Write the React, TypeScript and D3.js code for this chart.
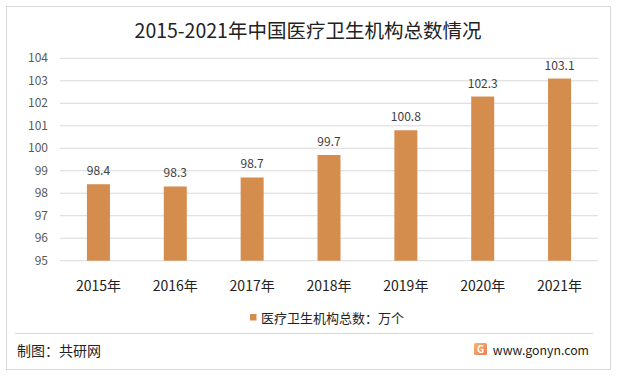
import React from "react";
import * as d3 from "d3";

const categories = ["2015年", "2016年", "2017年", "2018年", "2019年", "2020年", "2021年"];
const values = [98.4, 98.3, 98.7, 99.7, 100.8, 102.3, 103.1];
const yTicks = [95, 96, 97, 98, 99, 100, 101, 102, 103, 104];

const W = 617, H = 377;
const font = "'Microsoft YaHei', 'Noto Sans CJK SC', sans-serif";

export default function App() {
  const xc = d3.scaleBand<string>().domain(categories).range([60, 598]);
  const y = d3.scaleLinear().domain([95, 104]).range([260.7, 58.3]);
  const bw = 23;
  return (
    <svg width={W} height={H} style={{ position: "absolute", left: 0, top: 0 }} fontFamily={font}>
      <defs>
        <linearGradient id="lg" x1="0" y1="0" x2="1" y2="1">
          <stop offset="0" stopColor="#f7b46e" />
          <stop offset="1" stopColor="#ef7d52" />
        </linearGradient>
      </defs>
      <rect x={0} y={0} width={W} height={H} fill="#fff" />
      <rect x={6.5} y={6.5} width={604} height={363} fill="#fff" stroke="#d9d9d9" />
      <text x={308} y={38} textAnchor="middle" fontSize={19.5} fill="#222">2015-2021年中国医疗卫生机构总数情况</text>
      {yTicks.map(t => (
        <g key={t}>
          <line x1={60} x2={598} y1={y(t)} y2={y(t)} stroke="#d9d9d9" strokeWidth={1} />
          <text x={48} y={y(t) + 4} textAnchor="end" fontSize={12} fill="#595959">{t}</text>
        </g>
      ))}
      {categories.map((c, i) => {
        const cx = (xc(c) as number) + xc.bandwidth() / 2;
        return (
          <g key={c}>
            <rect x={cx - bw / 2} y={y(values[i])} width={bw} height={y(95) - y(values[i])} fill="#D58D4E" />
            <text x={cx} y={y(values[i]) - 9} textAnchor="middle" fontSize={12} fill="#404040">{values[i]}</text>
            <text x={cx} y={291} textAnchor="middle" fontSize={14} fill="#222">{c}</text>
          </g>
        );
      })}
      <rect x={250} y={314} width={6.5} height={6.5} fill="#D58D4E" />
      <text x={261} y={323} fontSize={13} fill="#222">医疗卫生机构总数：万个</text>
      <line x1={15} x2={593} y1={333.5} y2={333.5} stroke="#d9d9d9" />
      <text x={17} y={356} fontSize={14} fill="#222">制图：共研网</text>
      <rect x={474} y={343} width={13} height={12} rx={1.5} fill="url(#lg)" />
      <text x={480.5} y={353} textAnchor="middle" fontSize={10} fontWeight="bold" fill="#fff">G</text>
      <text x={589} y={355} textAnchor="end" fontSize={12.3} fill="#222">www.gonyn.com</text>
    </svg>
  );
}
